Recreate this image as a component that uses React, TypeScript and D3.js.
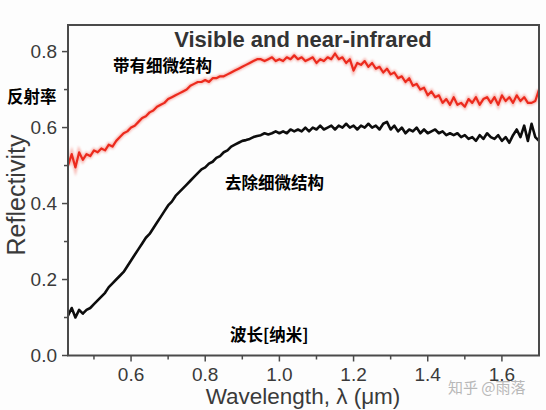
import React from "react";
import * as d3 from "d3";

const wavelengths = [
  0.43, 0.44, 0.45, 0.46, 0.47, 0.48, 0.49, 0.5, 0.51, 0.52, 0.53, 0.54, 0.55, 0.56, 0.57, 0.58, 0.59,
  0.6, 0.61, 0.62, 0.63, 0.64, 0.65, 0.66, 0.67, 0.68, 0.69, 0.7, 0.71, 0.72, 0.73, 0.74, 0.75, 0.76,
  0.77, 0.78, 0.79, 0.8, 0.81, 0.82, 0.83, 0.84, 0.85, 0.86, 0.87, 0.88, 0.89, 0.9, 0.91, 0.92, 0.93,
  0.94, 0.95, 0.96, 0.97, 0.98, 0.99, 1.0, 1.01, 1.02, 1.03, 1.04, 1.05, 1.06, 1.07, 1.08, 1.09, 1.1,
  1.11, 1.12, 1.13, 1.14, 1.15, 1.16, 1.17, 1.18, 1.19, 1.2, 1.21, 1.22, 1.23, 1.24, 1.25, 1.26, 1.27,
  1.28, 1.29, 1.3, 1.31, 1.32, 1.33, 1.34, 1.35, 1.36, 1.37, 1.38, 1.39, 1.4, 1.41, 1.42, 1.43, 1.44,
  1.45, 1.46, 1.47, 1.48, 1.49, 1.5, 1.51, 1.52, 1.53, 1.54, 1.55, 1.56, 1.57, 1.58, 1.59, 1.6, 1.61,
  1.62, 1.63, 1.64, 1.65, 1.66, 1.67, 1.68, 1.69, 1.7,
];

// 带有细微结构 (with microstructure)
const withStructure = [
  0.5, 0.53, 0.495, 0.535, 0.515, 0.53, 0.525, 0.54, 0.535, 0.545, 0.54, 0.555, 0.55, 0.565, 0.575, 0.585, 0.59,
  0.6, 0.605, 0.615, 0.625, 0.63, 0.64, 0.645, 0.655, 0.66, 0.665, 0.675, 0.68, 0.685, 0.69, 0.695, 0.7, 0.71,
  0.715, 0.72, 0.72, 0.725, 0.72, 0.73, 0.73, 0.735, 0.735, 0.74, 0.745, 0.75, 0.755, 0.76, 0.765, 0.77, 0.775,
  0.78, 0.78, 0.775, 0.78, 0.785, 0.775, 0.78, 0.775, 0.785, 0.78, 0.79, 0.78, 0.785, 0.775, 0.78, 0.785, 0.77,
  0.78, 0.775, 0.785, 0.78, 0.795, 0.78, 0.785, 0.77, 0.78, 0.75, 0.77, 0.765, 0.775, 0.76, 0.77, 0.755, 0.76,
  0.745, 0.755, 0.74, 0.745, 0.73, 0.735, 0.72, 0.73, 0.71, 0.715, 0.7, 0.705, 0.685, 0.695, 0.68, 0.685, 0.665,
  0.675, 0.66, 0.68, 0.66, 0.665, 0.655, 0.675, 0.665, 0.68, 0.66, 0.675, 0.68, 0.665, 0.68, 0.66, 0.685, 0.67,
  0.68, 0.665, 0.685, 0.67, 0.68, 0.665, 0.665, 0.67, 0.7,
];

// 去除细微结构 (microstructure removed)
const withoutStructure = [
  0.105, 0.125, 0.1, 0.12, 0.11, 0.12, 0.125, 0.135, 0.145, 0.155, 0.165, 0.18, 0.19, 0.2, 0.21, 0.22, 0.235,
  0.25, 0.265, 0.28, 0.295, 0.31, 0.32, 0.335, 0.35, 0.365, 0.38, 0.395, 0.405, 0.42, 0.43, 0.44, 0.45, 0.46,
  0.47, 0.48, 0.49, 0.495, 0.505, 0.51, 0.52, 0.525, 0.535, 0.54, 0.55, 0.555, 0.56, 0.565, 0.567, 0.57, 0.575,
  0.578, 0.58, 0.585, 0.582, 0.585, 0.59, 0.585, 0.59, 0.585, 0.595, 0.59, 0.595, 0.59, 0.6, 0.59, 0.6, 0.595,
  0.605, 0.595, 0.6, 0.605, 0.595, 0.605, 0.6, 0.61, 0.6, 0.605, 0.595, 0.605, 0.6, 0.61, 0.6, 0.605, 0.595,
  0.61, 0.615, 0.595, 0.605, 0.59, 0.6, 0.585, 0.595, 0.59, 0.6, 0.585, 0.595, 0.585, 0.59, 0.595, 0.585, 0.59,
  0.58, 0.585, 0.58, 0.585, 0.575, 0.58, 0.57, 0.575, 0.565, 0.58, 0.57, 0.585, 0.575, 0.57, 0.58, 0.565, 0.575,
  0.56, 0.58, 0.595, 0.575, 0.605, 0.565, 0.61, 0.575, 0.565,
];

const xMajorTicks = [0.6, 0.8, 1.0, 1.2, 1.4, 1.6];
const xMinorTicks = [0.5, 0.7, 0.9, 1.1, 1.3, 1.5];
const yMajorTicks = [0.0, 0.2, 0.4, 0.6, 0.8];
const yMinorTicks = [0.1, 0.3, 0.5, 0.7];

const W = 546;
const H = 410;
const plot = { left: 68, top: 25, right: 539, bottom: 355.5 };

export default function App() {
  const x = d3.scaleLinear().domain([0.43, 1.7]).range([plot.left, plot.right]);
  const y = d3.scaleLinear().domain([0, 0.87]).range([plot.bottom, plot.top]);

  const line = d3
    .line<number>()
    .x((_, i) => x(wavelengths[i]))
    .y((d) => y(d));

  const axisColor = "#4a4a4a";
  const textColor = "#3a3a3a";
  const latin = "Liberation Sans, Arial, Helvetica, sans-serif";
  const cjk = "'Noto Sans CJK SC', sans-serif";

  return (
    <svg
      width={W}
      height={H}
      style={{ position: "absolute", left: 0, top: 0, background: "#fff" }}
    >
      <rect x={0} y={0} width={W} height={H} fill="#fdfdfd" />
      <defs>
        <clipPath id="plotclip">
          <rect x={plot.left} y={plot.top} width={plot.right - plot.left} height={plot.bottom - plot.top} />
        </clipPath>
        <filter id="glow" x="-5%" y="-20%" width="110%" height="140%">
          <feGaussianBlur stdDeviation="1.2" />
        </filter>
      </defs>

      {/* lines */}
      <g clipPath="url(#plotclip)">
        <path d={line(withStructure) || ""} fill="none" stroke="#f58a80" strokeWidth={4.5} opacity={0.6} filter="url(#glow)" />
        <path d={line(withStructure) || ""} fill="none" stroke="#ec2a1d" strokeWidth={2.2} strokeLinejoin="round" />
        <path d={line(withoutStructure) || ""} fill="none" stroke="#0d0d0d" strokeWidth={2.6} strokeLinejoin="round" />
      </g>

      {/* frame */}
      <rect
        x={plot.left}
        y={plot.top}
        width={plot.right - plot.left}
        height={plot.bottom - plot.top}
        fill="none"
        stroke={axisColor}
        strokeWidth={2}
      />

      {/* x ticks */}
      {xMajorTicks.map((t) => (
        <g key={"xm" + t}>
          <line x1={x(t)} x2={x(t)} y1={plot.bottom} y2={plot.bottom + 6} stroke={axisColor} strokeWidth={1.5} />
          <text
            x={x(t)}
            y={381}
            textAnchor="middle"
            fontFamily={latin}
            fontSize={19}
            fill={textColor}
          >
            {t.toFixed(1)}
          </text>
        </g>
      ))}
      {xMinorTicks.map((t) => (
        <line key={"xn" + t} x1={x(t)} x2={x(t)} y1={plot.bottom} y2={plot.bottom + 4} stroke={axisColor} strokeWidth={1.5} />
      ))}

      {/* y ticks */}
      {yMajorTicks.map((t) => (
        <g key={"ym" + t}>
          <line x1={plot.left - 6} x2={plot.left} y1={y(t)} y2={y(t)} stroke={axisColor} strokeWidth={1.5} />
          <text
            x={57}
            y={y(t) + 6.5}
            textAnchor="end"
            fontFamily={latin}
            fontSize={19}
            fill={textColor}
          >
            {t.toFixed(1)}
          </text>
        </g>
      ))}
      {yMinorTicks.map((t) => (
        <line key={"yn" + t} x1={plot.left - 4} x2={plot.left} y1={y(t)} y2={y(t)} stroke={axisColor} strokeWidth={1.5} />
      ))}

      {/* axis titles */}
      <text
        x={303}
        y={404}
        textAnchor="middle"
        fontFamily={latin}
        fontSize={22.5}
        fill={textColor}
      >
        Wavelength, λ (μm)
      </text>
      <text
        transform={`translate(25,195) rotate(-90)`}
        textAnchor="middle"
        fontFamily={latin}
        fontSize={25}
        fill={textColor}
      >
        Reflectivity
      </text>

      {/* title */}
      <text
        x={303}
        y={47}
        textAnchor="middle"
        fontFamily={latin}
        fontSize={22}
        fontWeight="bold"
        fill="#333"
      >
        Visible and near-infrared
      </text>

      {/* Chinese annotations */}
      <text x={113} y={72} fontFamily={cjk} fontSize={16.5} fontWeight="bold" fill="#000">
        带有细微结构
      </text>
      <text x={7} y={103} fontFamily={cjk} fontSize={16.5} fontWeight="bold" fill="#000">
        反射率
      </text>
      <text x={225} y={189} fontFamily={cjk} fontSize={16.5} fontWeight="bold" fill="#000">
        去除细微结构
      </text>
      <text x={230} y={341} fontFamily={cjk} fontSize={16.5} fontWeight="bold" fill="#000">
        波长[纳米]
      </text>

      {/* watermark */}
      <text x={448} y={393} fontFamily={cjk} fontSize={15} fill="#b8b8b8">
        知乎 @雨落
      </text>
    </svg>
  );
}
